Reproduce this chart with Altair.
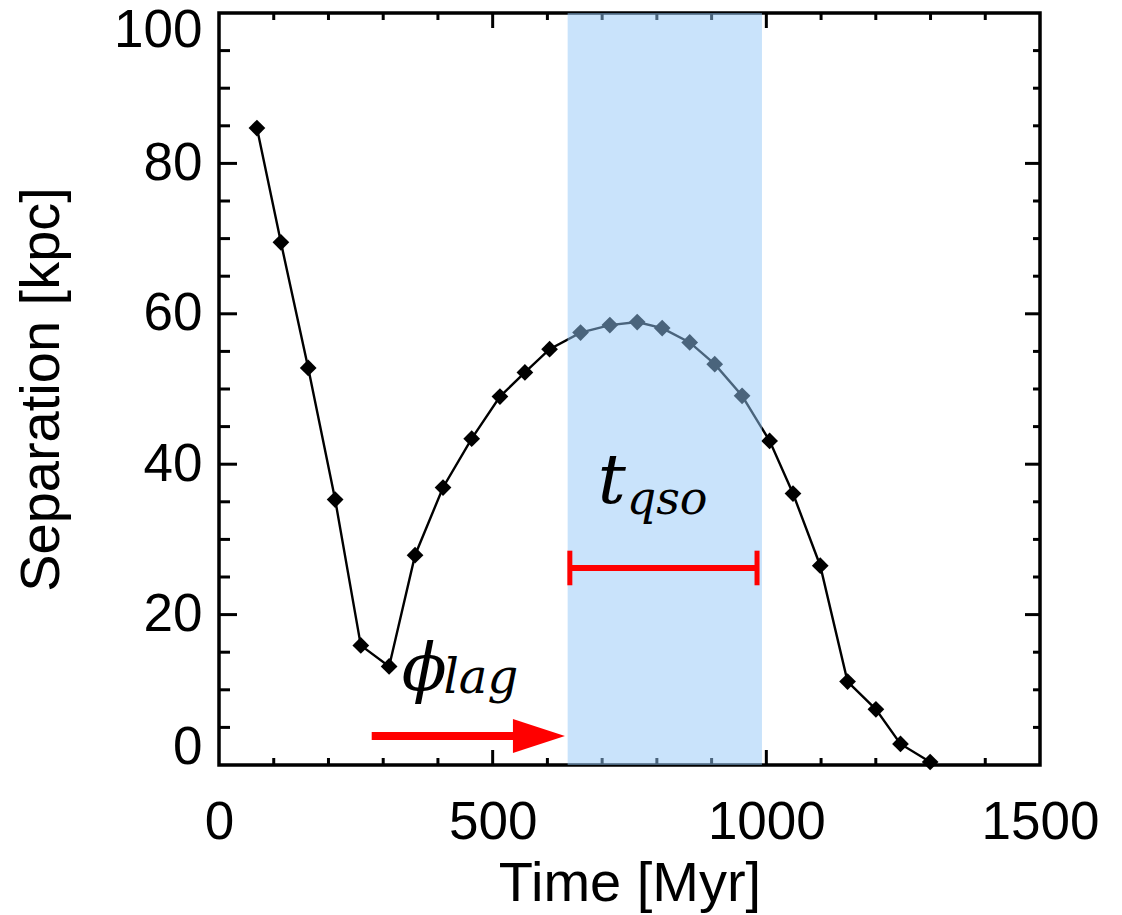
import altair as alt
import pandas as pd

# ---- data ----
time_myr = [69.3, 113.1, 163.0, 212.2, 259.1, 310.8, 358.2, 409.3, 461.7, 513.3,
            558.9, 604.0, 660.6, 714.1, 764.1, 809.7, 860.0, 905.7, 955.7, 1006.0,
            1048.7, 1098.5, 1148.4, 1200.2, 1245.1, 1299.3]
separation_kpc = [84.7, 69.5, 52.8, 35.3, 15.9, 13.1, 27.9, 36.9, 43.4, 49.0,
                  52.2, 55.3, 57.5, 58.5, 58.9, 58.1, 56.2, 53.3, 49.1, 43.1,
                  36.1, 26.5, 11.1, 7.4, 2.8, 0.4]

qso_band = [637, 992]          # shaded t_qso window [Myr]
tqso_bar = [641, 983]          # red bar extent [Myr]
tqso_bar_y = [26.2]            # kpc
tqso_cap = [23.9, 28.5]        # cap extent [kpc]
lag_arrow = [279, 632]         # phi_lag arrow [Myr]
lag_arrow_y = [3.86]

tq_main = {"x": 692, "y": 34.8, "text": "t"}
tq_sub = {"x": 745, "y": 33.4, "text": "qso"}
phi_main = {"x": 334, "y": 10.0, "text": "ϕ"}
phi_sub = {"x": 410, "y": 9.6, "text": "lag"}

x_ticks = [0, 500, 1000, 1500]
y_ticks = [0, 20, 40, 60, 80, 100]
x_minor = [v for v in range(100, 1500, 100) if v % 500 != 0]
x_major = [500, 1000]
y_minor = [v for v in range(5, 100, 5) if v % 20 != 0]
y_major = [20, 40, 60, 80]

W, H = 821, 752
SANS = "Liberation Sans"
SERIF = "DejaVu Serif"

df = pd.DataFrame({"t": time_myr, "sep": separation_kpc})

xs = alt.Scale(domain=[0, 1500], nice=False, zero=False)
ys = alt.Scale(domain=[0, 100], nice=False, zero=False)

xaxis = alt.Axis(values=x_ticks, format="d", ticks=False, tickSize=0, domain=False, grid=False,
                 labelFont=SANS, labelFontSize=53, labelColor="black", labelPadding=31,
                 labelFlush=False, title="Time [Myr]", titleFont=SANS, titleFontSize=56,
                 titleFontWeight="normal", titleColor="black", titleX=W / 2, titleY=135,
                 titleBaseline="alphabetic", titleAlign="center")
yaxis = alt.Axis(values=y_ticks, format="d", ticks=False, tickSize=0, domain=False, grid=False,
                 labelFont=SANS, labelFontSize=53, labelColor="black", labelPadding=17,
                 labelFlush=True, labelFlushOffset=9,
                 title="Separation [kpc]", titleFont=SANS, titleFontSize=56,
                 titleFontWeight="normal", titleColor="black", titleAngle=270,
                 titleX=-161, titleY=H / 2, titleAlign="center", titleBaseline="alphabetic")

base = alt.Chart(df)
line = base.mark_line(color="black", strokeWidth=2.4).encode(
    x=alt.X("t:Q", scale=xs, axis=xaxis),
    y=alt.Y("sep:Q", scale=ys, axis=yaxis),
)
pts = base.mark_point(shape="diamond", filled=True, size=280, color="black", opacity=1).encode(
    x=alt.X("t:Q", scale=xs), y=alt.Y("sep:Q", scale=ys)
)

band = alt.Chart(pd.DataFrame({"a": [qso_band[0]], "b": [qso_band[1]]})).mark_rect(
    color="#93c8f7", opacity=0.5).encode(
    x=alt.X("a:Q", scale=xs), x2="b:Q", y=alt.value(0), y2=alt.value(H))

bar = alt.Chart(pd.DataFrame({"a": [tqso_bar[0]], "b": [tqso_bar[1]], "y": tqso_bar_y})).mark_rule(
    color="#ff0000", strokeWidth=6).encode(x=alt.X("a:Q", scale=xs), x2="b:Q", y=alt.Y("y:Q", scale=ys))
caps = alt.Chart(pd.DataFrame({"x": tqso_bar, "y1": [tqso_cap[0]] * 2, "y2": [tqso_cap[1]] * 2})).mark_rule(
    color="#ff0000", strokeWidth=5).encode(x=alt.X("x:Q", scale=xs), y=alt.Y("y1:Q", scale=ys), y2="y2:Q")

shaft = alt.Chart(pd.DataFrame({"a": [lag_arrow[0]], "b": [lag_arrow[1]], "y": lag_arrow_y})).mark_rule(
    color="#ff0000", strokeWidth=8, x2Offset=-30).encode(
    x=alt.X("a:Q", scale=xs), x2="b:Q", y=alt.Y("y:Q", scale=ys))
head = alt.Chart(pd.DataFrame({"x": [lag_arrow[1]], "y": lag_arrow_y})).mark_point(
    shape="M0,0L-2,-0.654L-2,0.654Z", filled=True, size=2704, color="#ff0000", opacity=1,
    strokeWidth=0).encode(x=alt.X("x:Q", scale=xs), y=alt.Y("y:Q", scale=ys))


def label(d, size):
    return alt.Chart(pd.DataFrame([d])).mark_text(
        font=SERIF, fontStyle="italic", fontSize=size, color="black",
        align="left", baseline="alphabetic").encode(
        x=alt.X("x:Q", scale=xs), y=alt.Y("y:Q", scale=ys), text="text:N")


texts = label(tq_main, 70) + label(tq_sub, 46) + label(phi_main, 66) + label(phi_sub, 48)


def ticks_x(vals, y0, y1):
    return alt.Chart(pd.DataFrame({"v": vals})).mark_rule(color="black", strokeWidth=3).encode(
        x=alt.X("v:Q", scale=xs), y=alt.value(y0), y2=alt.value(y1))


def ticks_y(vals, x0, x1):
    return alt.Chart(pd.DataFrame({"v": vals})).mark_rule(color="black", strokeWidth=3).encode(
        y=alt.Y("v:Q", scale=ys), x=alt.value(x0), x2=alt.value(x1))


tick_layers = (ticks_x(x_minor, H, H - 7) + ticks_x(x_major, H, H - 15)
               + ticks_x(x_minor, 0, 7) + ticks_x(x_major, 0, 15)
               + ticks_y(y_minor, 0, 11) + ticks_y(y_major, 0, 18)
               + ticks_y(y_minor, W, W - 7) + ticks_y(y_major, W, W - 15))

chart = alt.layer(line, pts, tick_layers, band, bar, caps, shaft, head, texts).properties(
    width=W, height=H,
    padding={"left": 219, "top": 13, "right": 82, "bottom": 150},
    autosize=alt.AutoSizeParams(type="none"),
    background="white",
).configure_view(stroke="black", strokeWidth=3.5)

chart.save("out.html", embed_options={"renderer": "svg", "actions": False})
